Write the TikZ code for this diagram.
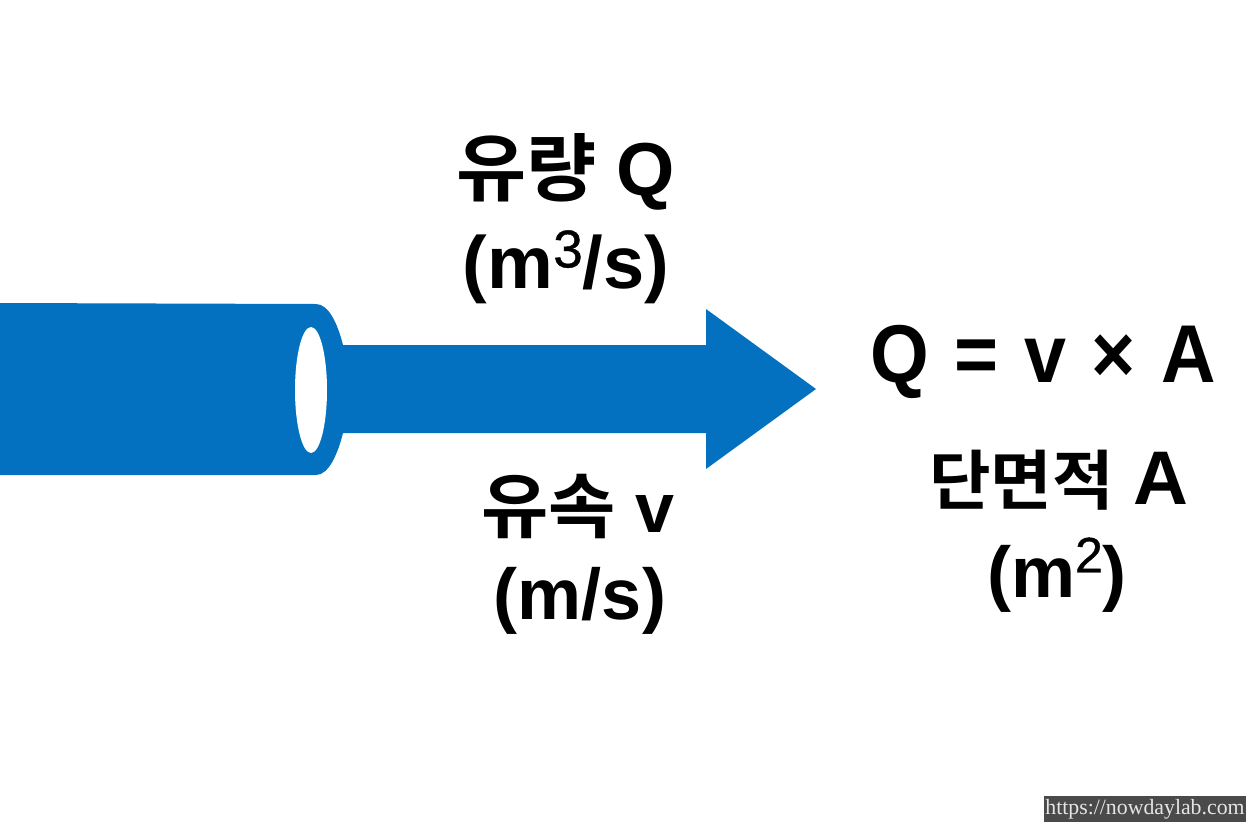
\documentclass[tikz,border=0pt]{standalone}
\usepackage{fontspec}
\setmainfont{Liberation Sans}
\newfontfamily\kr{Noto Sans CJK KR}[BoldFont={Noto Sans CJK KR Bold},FakeStretch=1.03]
\newfontfamily\eqfont{Liberation Sans}[FakeStretch=0.92]
\newfontfamily\supfont{Liberation Sans}[FakeBold=0.8]
\newfontfamily\web{Liberation Serif}
\definecolor{pipe}{HTML}{0370C0}
\definecolor{wmbg}{HTML}{4A4A4A}
\newcommand{\krf}[2]{{\kr\fontsize{#1}{90}\selectfont #2}}
\newcommand{\supr}[3]{\raisebox{#2}{\supfont\fontsize{#1}{50}\selectfont\mdseries #3}}
\begin{document}
\begin{tikzpicture}[x=1pt,y=-1pt,
 lab/.style={font=\bfseries\fontsize{72}{84}\selectfont,align=center,text=black,inner sep=0pt},
 blue shape/.style={fill=pipe,draw=none}]
\useasboundingbox (0,0) rectangle (1254,836);
\fill[white] (0,0) rectangle (1254,836);
\fill[blue shape] (330,345) -- (706,345) -- (706,309) -- (816,389) -- (706,469) -- (706,433) -- (330,433) -- cycle;
\fill[blue shape] (0,303) -- (316,304) .. controls (329,304) and (338,325) .. (343,345) -- (343,433) .. controls (338,453) and (329,475) .. (316,475) -- (0,475) -- cycle;
\fill[white] (311,390) ellipse [x radius=16, y radius=63];
\node[lab] (q) at (566,172) {\krf{74}{유량} \fontsize{75}{84}\selectfont Q};
\node[lab,font=\bfseries\fontsize{74}{84}\selectfont] (qu) at (566,267) {(m\supr{53}{21pt}{3}/s)};
\node[lab] (v) at (578,507) {\krf{71}{유속} \fontsize{70}{80}\selectfont v};
\node[lab] (vu) at (580,601) {(m/s)};
\node[lab,font=\eqfont\bfseries\fontsize{82}{90}\selectfont] (eq) at (1043,362) {Q\hspace{25.5pt}=\hspace{25.5pt}v\hspace{25.5pt}×\hspace{25.5pt}A};
\node[lab] (a) at (1059,480) {\krf{65}{단면적} \fontsize{76}{90}\selectfont A};
\node[lab] (au) at (1057,575) {(m\supr{50}{25pt}{2})};
\node[fill=wmbg,text=white!90!black,inner xsep=1pt,inner ysep=3pt,font=\web\fontsize{21.8}{24}\selectfont] (w) at (1145,809) {https://nowdaylab.com};
\end{tikzpicture}
\end{document}
